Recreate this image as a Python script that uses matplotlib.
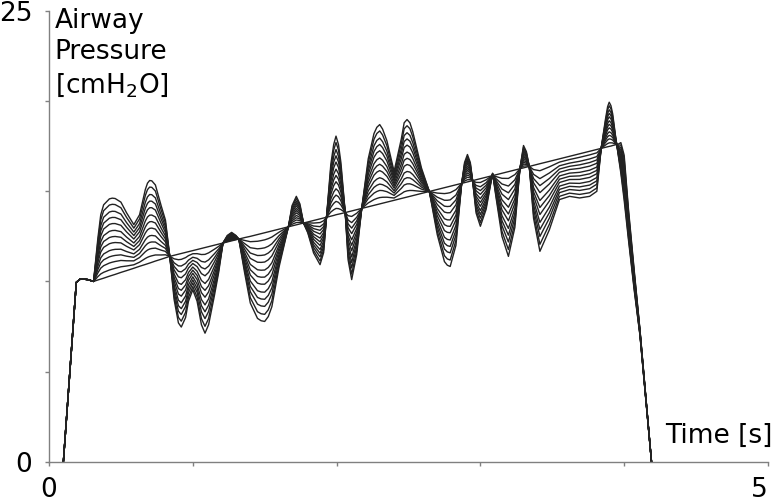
import numpy as np
import matplotlib.pyplot as plt
import matplotlib.transforms as mtransforms

# time axis [s]
time_s = [0.10, 0.19, 0.22, 0.27, 0.31, 0.34, 0.36, 0.38, 0.42, 0.44, 0.46, 0.50, 0.54,
          0.59, 0.63, 0.67, 0.685, 0.70, 0.715, 0.74, 0.78, 0.81, 0.84, 0.87, 0.90, 0.92, 0.95,
          0.97, 1.00, 1.03, 1.06, 1.085, 1.11, 1.15, 1.18, 1.21, 1.24, 1.27, 1.30,
          1.32, 1.36, 1.40, 1.45, 1.475, 1.50, 1.525, 1.55, 1.60, 1.665, 1.69, 1.72, 1.745, 1.77,
          1.80, 1.84, 1.885, 1.91, 1.93, 1.96, 1.98, 1.996, 2.013, 2.03, 2.06, 2.08, 2.105, 2.14,
          2.175, 2.22, 2.26, 2.28, 2.30, 2.32, 2.35, 2.40, 2.45, 2.47, 2.49, 2.51, 2.53, 2.59,
          2.645, 2.70, 2.75, 2.77, 2.79, 2.83, 2.87, 2.89, 2.91, 2.93, 2.946, 2.97, 3.00, 3.04,
          3.085, 3.11, 3.15, 3.195, 3.24, 3.275, 3.30, 3.32, 3.34, 3.37, 3.414, 3.48, 3.55,
          3.62, 3.69, 3.76, 3.81, 3.84, 3.87, 3.885, 3.896, 3.908, 3.92, 3.94, 3.96, 3.977, 4.00,
          4.03, 4.07, 4.11, 4.19]

# straight ramp curve (no perturbation)
base_cmh2o = [0.00, 9.95, 10.15, 10.10, 10.00, 10.08, 10.13, 10.18, 10.29, 10.34, 10.39, 10.50, 10.60,
              10.73, 10.84, 10.94, 10.98, 11.02, 11.06, 11.13, 11.23, 11.31, 11.39, 11.45, 11.51, 11.55, 11.61,
              11.65, 11.71, 11.77, 11.83, 11.88, 11.93, 12.01, 12.07, 12.13, 12.19, 12.25, 12.31,
              12.35, 12.43, 12.50, 12.60, 12.65, 12.70, 12.75, 12.80, 12.90, 13.03, 13.08, 13.14, 13.19, 13.24,
              13.30, 13.38, 13.47, 13.52, 13.56, 13.62, 13.66, 13.70, 13.73, 13.76, 13.82, 13.86, 13.91, 13.98,
              14.05, 14.14, 14.22, 14.26, 14.30, 14.34, 14.40, 14.50, 14.60, 14.64, 14.68, 14.72, 14.76, 14.88,
              14.99, 15.10, 15.20, 15.24, 15.28, 15.36, 15.44, 15.48, 15.52, 15.56, 15.59, 15.64, 15.70, 15.78,
              15.87, 15.92, 16.00, 16.09, 16.18, 16.25, 16.30, 16.34, 16.38, 16.44, 16.53, 16.66, 16.80,
              16.94, 17.08, 17.22, 17.32, 17.38, 17.44, 17.47, 17.49, 17.51, 17.54, 17.58, 17.62, 17.70, 17.00,
              14.00, 10.60, 7.30, 0.00]

# largest oscillation curve
peak_cmh2o = [0.00, 9.95, 10.15, 10.10, 10.00, 12.40, 13.70, 14.25, 14.58, 14.62, 14.60, 14.40, 13.80,
              13.15, 13.70, 15.10, 15.45, 15.60, 15.58, 15.35, 14.20, 13.40, 11.39, 9.00, 7.70, 7.47, 8.00,
              8.90, 9.54, 8.90, 7.60, 7.13, 7.60, 9.20, 10.50, 12.13, 12.55, 12.72, 12.55,
              12.35, 10.50, 8.80, 7.95, 7.82, 7.78, 8.05, 8.60, 10.80, 13.03, 14.20, 14.72, 14.30, 13.24,
              12.69, 11.58, 10.93, 11.60, 13.56, 16.50, 17.60, 18.06, 17.60, 16.60, 13.82, 11.20, 10.10, 11.50,
              14.05, 16.80, 18.20, 18.55, 18.70, 18.45, 17.80, 16.10, 17.90, 18.80, 18.98, 18.80, 18.30, 16.30,
              14.99, 12.60, 11.10, 10.90, 10.83, 12.00, 15.44, 16.60, 17.04, 16.60, 15.59, 13.80, 13.06, 14.00,
              16.00, 14.60, 12.50, 11.39, 13.00, 16.25, 17.54, 17.20, 16.38, 13.50, 11.67, 12.87, 14.54,
              14.72, 14.63, 14.72, 15.00, 17.38, 19.00, 19.70, 19.94, 19.75, 19.30, 18.06, 16.94, 16.00, 14.50,
              12.30, 9.50, 7.00, 0.00]

# oscillation amplitude of each drawn curve
gains = [0.0, 0.08, 0.17, 0.25, 0.33, 0.42, 0.5, 0.58, 0.67, 0.75, 0.83, 0.92, 1.0]

t = np.array(time_s)
base = np.array(base_cmh2o)
peak = np.array(peak_cmh2o)

plt.rcParams['font.family'] = 'DejaVu Sans'
fig = plt.figure(figsize=(7.74, 5.03), dpi=100)
ax = fig.add_axes([0.0633, 0.0821, 0.9289, 0.8960])

for g in gains:
    ax.plot(t, base + g * (peak - base), color='#222222', linewidth=1.0,
            solid_joinstyle='round', clip_on=False)

ax.set_xlim(0, 5)
ax.set_ylim(0, 25)
ax.spines['top'].set_visible(False)
ax.spines['right'].set_visible(False)
for s in ['left', 'bottom']:
    ax.spines[s].set_color('#808080')
    ax.spines[s].set_linewidth(1.0)

ax.set_xticks([0, 1, 2, 3, 4, 5])
ax.set_xticklabels(['0', '', '', '', '', '5'])
ax.set_yticks([0, 5, 10, 15, 20, 25])
ax.set_yticklabels(['0', '', '', '', '', '25'])
ax.tick_params(axis='both', direction='out', length=3, width=1.0, color='#808080',
               labelsize=19, labelcolor='black')
ax.tick_params(axis='x', pad=8)
ax.tick_params(axis='y', pad=9)

# nudge the last x label so it stays inside the figure
last = ax.get_xticklabels()[-1]
last.set_transform(last.get_transform() + mtransforms.ScaledTranslation(-6 / 72, 0, fig.dpi_scale_trans))

ax.text(0.04, 25.15, 'Airway\nPressure\n[cmH$_\\mathregular{2}$O]', fontsize=19,
        ha='left', va='top', linespacing=1.25)
ax.text(5.035, 1.04, 'Time [s]', fontsize=19, ha='right', va='baseline', clip_on=False)

fig.savefig('out.png', dpi=100)
